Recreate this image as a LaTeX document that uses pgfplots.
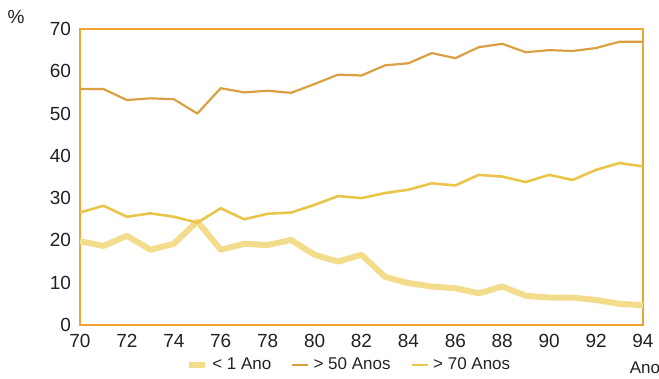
\documentclass[border=0pt]{standalone}
\usepackage{pgfplots}
\pgfplotsset{compat=1.18}
\usepackage{fontspec}
\setmainfont{Liberation Sans}
\definecolor{frameor}{HTML}{F0A333}
\definecolor{cfifty}{HTML}{D9A042}
\definecolor{cseventy}{HTML}{E9C64A}
\definecolor{cone}{HTML}{F3DC8C}
\definecolor{txt}{HTML}{222222}
\begin{document}
\begin{tikzpicture}
\useasboundingbox (-40pt,-27pt) rectangle (289.5pt,162.5pt);
\begin{axis}[
  scale only axis, width=281.5pt, height=148pt,
  at={(0,0)}, anchor=south west,
  xmin=70, xmax=94, ymin=0, ymax=70,
  xtick={70,72,...,94}, ytick={0,10,...,70},
  major tick length=0pt,
  axis line style={draw=frameor, line width=1.2pt},
  tick label style={font=\fontsize{9.5}{11}\selectfont, text=txt},
  /pgf/number format/assume math mode=true,
  xticklabel style={yshift=-1pt},
  yticklabel style={xshift=-1pt},
  legend style={draw=none, fill=none, at={(0.48,-0.135)}, anchor=center,
    inner sep=0pt, font=\fontsize{8.5}{10}\selectfont, text=txt, legend columns=3,
    /tikz/every even column/.append style={column sep=8pt}},
  legend image code/.code={\draw[#1] (0pt,0pt) -- (8pt,0pt);},
  clip=false,
]
\addplot[cone, line width=3pt, line join=round] coordinates {
(70,19.8)(71,18.7)(72,21.1)(73,17.8)(74,19.2)(75,24.5)(76,17.8)(77,19.2)(78,18.9)(79,20.1)
(80,16.6)(81,15.0)(82,16.6)(83,11.4)(84,9.9)(85,9.1)(86,8.7)(87,7.5)(88,9.1)(89,6.9)
(90,6.5)(91,6.5)(92,5.9)(93,5.0)(94,4.7)};
\addlegendentry{< 1 Ano}
\addplot[cfifty, line width=1.1pt, line join=round] coordinates {
(70,55.8)(71,55.8)(72,53.2)(73,53.6)(74,53.4)(75,50.0)(76,56.0)(77,55.0)(78,55.4)(79,54.9)
(80,57.0)(81,59.2)(82,59.0)(83,61.4)(84,61.9)(85,64.3)(86,63.1)(87,65.7)(88,66.5)(89,64.5)
(90,65.0)(91,64.8)(92,65.5)(93,67.0)(94,67.0)};
\addlegendentry{> 50 Anos}
\addplot[cseventy, line width=1.3pt, line join=round] coordinates {
(70,26.6)(71,28.2)(72,25.6)(73,26.4)(74,25.6)(75,24.2)(76,27.6)(77,25.0)(78,26.3)(79,26.6)
(80,28.4)(81,30.5)(82,30.0)(83,31.2)(84,32.0)(85,33.5)(86,33.0)(87,35.5)(88,35.1)(89,33.8)
(90,35.5)(91,34.3)(92,36.7)(93,38.3)(94,37.5)};
\addlegendentry{> 70 Anos}
\node[text=txt, font=\fontsize{9.5}{11}\selectfont] at (rel axis cs:0,1) [xshift=-32pt, yshift=6pt] {\%};
\node[text=txt, font=\fontsize{8.5}{10}\selectfont, anchor=north] at (rel axis cs:1,0) [yshift=-15pt, xshift=1pt] {Ano};
\end{axis}
\end{tikzpicture}
\end{document}
